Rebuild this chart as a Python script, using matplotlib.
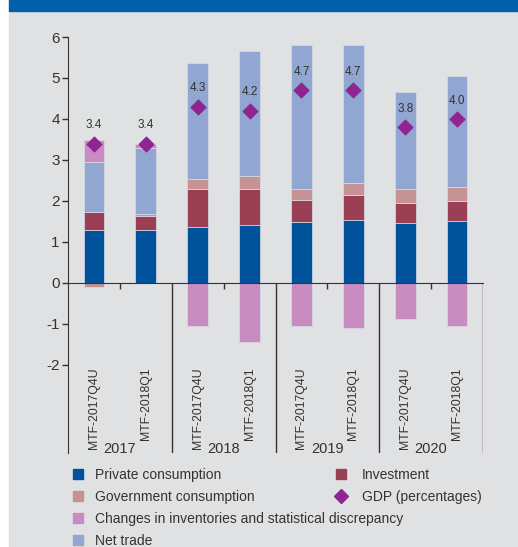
import numpy as np
import matplotlib.pyplot as plt
from matplotlib.lines import Line2D
from matplotlib.patches import Rectangle
from matplotlib import font_manager

# data (percentage points)
years = ["2017", "2018", "2019", "2020"]
vintages = ["MTF-2017Q4U", "MTF-2018Q1"]
private = [1.29, 1.30, 1.37, 1.42, 1.48, 1.54, 1.47, 1.52]
investment = [0.44, 0.34, 0.93, 0.86, 0.55, 0.60, 0.49, 0.49]
government = [-0.10, 0.04, 0.24, 0.33, 0.27, 0.29, 0.32, 0.34]
net_trade = [1.23, 1.60, 2.82, 3.04, 3.51, 3.37, 2.38, 2.69]
inventories = [0.53, 0.11, -1.05, -1.44, -1.06, -1.09, -0.87, -1.04]
gdp = [3.4, 3.4, 4.3, 4.2, 4.7, 4.7, 3.8, 4.0]

series = [
    ("Private consumption", private, "#00539b"),
    ("Investment", investment, "#9b3f55"),
    ("Government consumption", government, "#c69294"),
    ("Net trade", net_trade, "#91a6d0"),
    ("Changes in inventories and statistical discrepancy", inventories, "#c98cc0"),
]
gdp_color = "#8e2590"
bg = "#e0e1e3"
ink = "#333333"
narrow = ["Liberation Sans", "DejaVu Sans"]

fig = plt.figure(figsize=(5.18, 5.47), dpi=100)
fig.patches.append(Rectangle((9 / 518, 0), 1, 1, transform=fig.transFigure,
                             color=bg, zorder=-10))
fig.patches.append(Rectangle((9 / 518, 1 - 11 / 547), 1, 11 / 547,
                             transform=fig.transFigure, color="#0060a9", zorder=-9))

ax = fig.add_axes([68 / 518, 1 - 453 / 547, 415 / 518, 416 / 547])
ax.set_facecolor("none")

x = np.arange(len(gdp)) + 0.5
pos_base = np.zeros(len(gdp))
neg_base = np.zeros(len(gdp))
for name, vals, col in series:
    v = np.array(vals)
    bottom = np.where(v >= 0, pos_base, neg_base)
    ax.bar(x, v, 0.4, bottom=bottom, color=col, edgecolor="#d8dde8",
           linewidth=0.5, zorder=2)
    pos_base += np.clip(v, 0, None)
    neg_base += np.clip(v, None, 0)

ax.scatter(x, gdp, marker="D", s=55, color=gdp_color, zorder=4)
for xi, g in zip(x, gdp):
    ax.text(xi, g + 0.45, f"{g:.1f}", ha="center", va="center",
            fontsize=8.5, color=ink, family=narrow, zorder=5)

ymin = -4.15
ax.set_xlim(0, 8)
ax.set_ylim(ymin, 6)
ax.set_yticks(range(-2, 7))
ax.set_yticklabels([str(t) for t in range(-2, 7)], family=narrow,
                   fontsize=11, color=ink)
ax.tick_params(axis="y", direction="out", length=4, width=1, color=ink, pad=2)

for s in ["top", "right"]:
    ax.spines[s].set_visible(False)
ax.spines["left"].set_bounds(ymin, 6)
ax.spines["left"].set_color(ink)
ax.spines["bottom"].set_position(("data", 0))
ax.spines["bottom"].set_color(ink)
ax.set_xticks([1, 3, 5, 7])
ax.set_xticklabels([])
ax.tick_params(axis="x", direction="out", length=4, width=1, color=ink)

ax.vlines([2, 4, 6, 8], ymin, 0, color=ink, linewidth=1)

for i, xi in enumerate(x):
    ax.text(xi, -2.05, vintages[i % 2], rotation=90, ha="center", va="top",
            fontsize=8.8, color=ink, family=narrow)
for j, yr in enumerate(years):
    ax.text(2 * j + 1, -4.05, yr, ha="center", va="center",
            fontsize=10.5, color=ink, family=narrow)

def sq(col):
    return Line2D([], [], marker="s", linestyle="none", markersize=7.5,
                  color=col)

leg_font = {"family": ["Liberation Sans", "DejaVu Sans"], "size": 10}
left_items = [series[0], series[2], series[4], series[3]]
fig.legend([sq(c) for _, _, c in left_items],
           [n for n, _, _ in left_items], loc="upper left",
           bbox_to_anchor=(71 / 518, 1 - 468 / 547), frameon=False,
           prop=leg_font, handlelength=1.0, handletextpad=0.75,
           borderpad=0, borderaxespad=0, labelspacing=0.58,
           labelcolor=ink)
fig.legend([sq(series[1][2]),
            Line2D([], [], marker="D", linestyle="none", markersize=7,
                   color=gdp_color)],
           ["Investment", "GDP (percentages)"], loc="upper left",
           bbox_to_anchor=(334 / 518, 1 - 468 / 547), frameon=False,
           prop=leg_font, handlelength=1.0, handletextpad=1.0,
           borderpad=0, borderaxespad=0, labelspacing=0.58, labelcolor=ink)

fig.savefig("out.png", dpi=100)
